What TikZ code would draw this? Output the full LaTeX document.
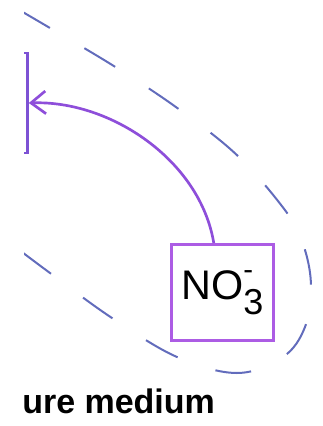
\documentclass[tikz,border=0pt]{standalone}
\usepackage{fontspec}
\setmainfont{Liberation Sans}
\usepackage{tikz}
\usetikzlibrary{arrows.meta, positioning}
\definecolor{boxpurple}{RGB}{172,92,228}
\definecolor{arrowpurple}{RGB}{142,78,218}
\definecolor{cellpurple}{RGB}{125,82,212}
\definecolor{dashblue}{RGB}{98,108,188}

\begin{document}
\begin{tikzpicture}[
        x=0.75pt, y=-0.75pt,
        ion/.style={draw=boxpurple, line width=2.2pt, rectangle, minimum width=77pt, minimum height=72pt, inner sep=0pt, font=\fontsize{31}{36}\selectfont},
        cellbox/.style={draw=cellpurple, line width=2.2pt, rectangle, minimum width=80pt, minimum height=75pt},
        zone/.style={draw=dashblue, line width=1.5pt, dash pattern=on 27pt off 30pt, dash phase=32pt},
        arrow/.style={-{Straight Barb[length=11pt, width=17pt]}, draw=arrowpurple, line width=2pt},
        label/.style={font=\bfseries\fontsize{25.5}{29}\selectfont, anchor=base west, inner sep=0pt}
    ]
        \useasboundingbox (0,0) rectangle (323,426);
        \clip (24,0) rectangle (323,426);

        % Zone around the uptake site
        \draw[zone] plot[smooth, tension=0.6] coordinates {(-10,-7) (50,28) (117,68) (180,110) (240,158) (290,217) (305,250) (311,287) (305,327) (283,357) (237,373) (177,357) (112,318) (50,273) (-10,228)};

        % Nodes
        \node[cellbox] (cell) at (-26,103) {};
        \node[ion] (nitrate) at (222.5,292.5) {NO\makebox[0pt][l]{\raisebox{0.5em}{\fontsize{22}{22}\selectfont -}}\raisebox{-0.36em}{\fontsize{27}{27}\selectfont 3}};
        \node[label] (medium) at (22,413) {ure medium};

        % Arrows
        \draw[arrow] (nitrate.100) .. controls (200,160) and (110,100) .. (cell.east);
    \end{tikzpicture}
\end{document}
